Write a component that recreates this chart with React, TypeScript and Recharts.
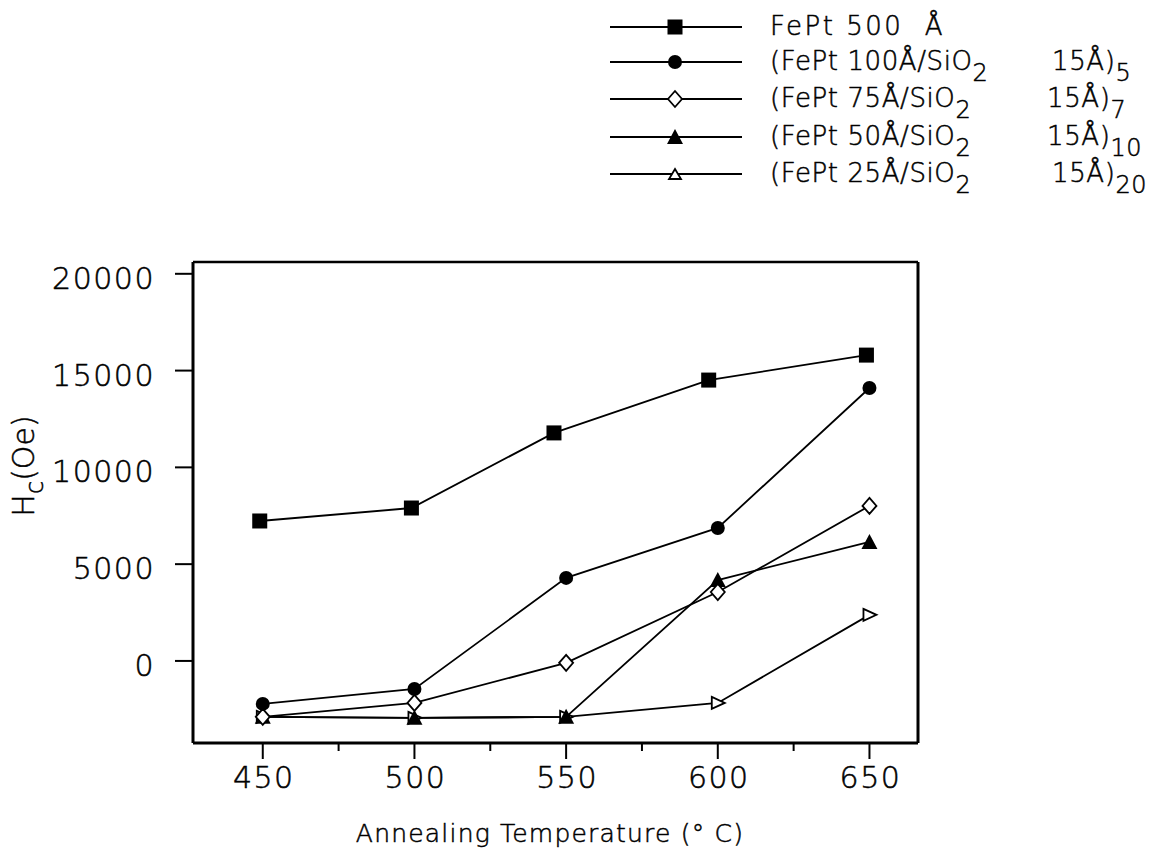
import React from 'react';
import { LineChart, Line, XAxis, YAxis, Legend, ReferenceLine } from 'recharts';

// ---- data ----
const temps = [450, 500, 550, 600, 650];
const fePt500Temps = [449, 499, 546, 597, 649];
const fePt500 = [7230, 7900, 11780, 14510, 15800];
const ml100 = [-2220, -1450, 4290, 6870, 14100];
const ml75 = [-2890, -2170, -100, 3560, 8010];
const ml50 = [-2890, -2940, -2890, 4180, 6150];
const ml25 = [-2890, -2940, -2890, -2170, 2380];

const xTicks = [450, 475, 500, 525, 550, 575, 600, 625, 650];
const yTicks = [0, 5000, 10000, 15000, 20000];
const xDomain = [427, 666];
const yDomain = [-4240, 20610];

const legendMain = [
  'FePt 500\u00A0\u00A0Å',
  '(FePt 100Å/SiO',
  '(FePt 75Å/SiO',
  '(FePt 50Å/SiO',
  '(FePt 25Å/SiO',
];
const legendSub = ['', '5', '7', '10', '20'];
const seriesKeys = ['sq', 'ci', 'di', 'tf', 'to'];

const toData = (xs: number[], ys: number[]) => xs.map((t, i) => ({ t, v: ys[i] }));

const dSq = toData(fePt500Temps, fePt500);
const dCi = toData(temps, ml100);
const dDi = toData(temps, ml75);
const dTf = toData(temps, ml50);
const dTo = toData(temps, ml25);

const FONT = '"DejaVu Sans", "Liberation Sans", sans-serif';
const WEIGHT = 300;
const TXT = { fontFamily: FONT, fontWeight: WEIGHT, fill: '#000', stroke: '#000', strokeWidth: 0.5 } as any;

const marker = (kind: string, cx: number, cy: number, key?: any, legend = false) => {
  switch (kind) {
    case 'sq':
      return <rect key={key} x={cx - 7.5} y={cy - 7.5} width={15} height={15} fill="#000" />;
    case 'ci':
      return <circle key={key} cx={cx} cy={cy} r={7} fill="#000" />;
    case 'di':
      return (
        <polygon
          key={key}
          points={`${cx},${cy - 8} ${cx + 7},${cy} ${cx},${cy + 8} ${cx - 7},${cy}`}
          fill="#fff"
          stroke="#000"
          strokeWidth={1.8}
        />
      );
    case 'tf':
      return (
        <polygon
          key={key}
          points={`${cx},${cy - 8} ${cx + 8},${cy + 7} ${cx - 8},${cy + 7}`}
          fill="#000"
        />
      );
    case 'to':
    default:
      if (legend) {
        return (
          <polygon
            key={key}
            points={`${cx},${cy - 5} ${cx + 6},${cy + 5} ${cx - 6},${cy + 5}`}
            fill="#fff"
            stroke="#000"
            strokeWidth={1.8}
          />
        );
      }
      return (
        <polygon
          key={key}
          points={`${cx - 6},${cy - 6} ${cx + 7},${cy} ${cx - 6},${cy + 6}`}
          fill="#fff"
          stroke="#000"
          strokeWidth={1.8}
        />
      );
  }
};

const dotFn = (kind: string) => (p: any) => marker(kind, p.cx, p.cy, `${kind}-${p.index}`);

const XTick = (props: any) => {
  const { x, y, payload } = props;
  const major = payload.value % 50 === 0;
  return (
    <g>
      <line x1={x} x2={x} y1={y} y2={y + (major ? 16 : 8)} stroke="#000" strokeWidth={2} />
      {major && (
        <text x={x + 1} y={y + 45} textAnchor="middle" fontSize={30} letterSpacing={1.5} {...TXT}>
          {payload.value}
        </text>
      )}
    </g>
  );
};

const YTick = (props: any) => {
  const { x, y, payload } = props;
  return (
    <g>
      <line x1={x - 18} x2={x} y1={y} y2={y} stroke="#000" strokeWidth={2} />
      <text x={x - 38} y={y + 15} textAnchor="end" fontSize={30} letterSpacing={1.5} {...TXT}>
        {payload.value}
      </text>
    </g>
  );
};

const XTitle = () => (
  <text x={550} y={842} textAnchor="middle" fontSize={25} letterSpacing={1.2} {...TXT}>
    Annealing Temperature (° C)
  </text>
);

const YTitle = () => (
  <text
    x={34}
    y={466}
    transform="rotate(-90 34 466)"
    textAnchor="middle"
    fontSize={30}
    {...TXT}
  >
    H
    <tspan dy={9} fontSize={24}>c</tspan>
    <tspan dy={-9}>(Oe)</tspan>
  </text>
);

const rowsY = [27, 62, 99, 137, 174];

const LegendContent = () => (
  <svg width={569} height={210} style={{ display: 'block' }}>
    {seriesKeys.map((k, i) => {
      const y = rowsY[i];
      return (
        <g key={k}>
          <line x1={20} x2={152} y1={y} y2={y} stroke="#000" strokeWidth={1.8} />
          {marker(k, 85, y, undefined, true)}
          <text x={180} y={y + 8} fontSize={26} letterSpacing={i === 0 ? 2.5 : 0.6} {...TXT}>
            {legendMain[i]}
            {i > 0 && (
              <tspan dy={11} fontSize={24}>
                2
              </tspan>
            )}
          </text>
          {i > 0 && (
            <text x={i === 1 || i === 4 ? 462 : 457} y={y + 8} fontSize={26} letterSpacing={0.6} {...TXT}>
              15Å)
              <tspan dy={11} fontSize={24}>
                {legendSub[i]}
              </tspan>
            </text>
          )}
        </g>
      );
    })}
  </svg>
);

export default function App() {
  return (
    <div style={{ position: 'absolute', left: 0, top: 0, width: 1159, height: 856, background: '#fff' }}>
      <LineChart
        width={1159}
        height={856}
        margin={{ top: 262, right: 241, bottom: 13, left: 73 }}
      >
        <XAxis
          xAxisId={0}
          dataKey="t"
          type="number"
          domain={xDomain}
          allowDataOverflow
          ticks={xTicks}
          interval={0}
          tick={<XTick />}
          tickLine={false}
          tickSize={0}
          tickMargin={0}
          height={100}
          axisLine={{ stroke: '#000', strokeWidth: 3 }}
          label={<XTitle />}
        />
        <YAxis
          yAxisId={0}
          type="number"
          domain={yDomain}
          allowDataOverflow
          ticks={yTicks}
          interval={0}
          tick={<YTick />}
          tickLine={false}
          tickSize={0}
          tickMargin={0}
          width={120}
          axisLine={{ stroke: '#000', strokeWidth: 3 }}
          label={<YTitle />}
        />
        <ReferenceLine y={yDomain[1]} stroke="#000" strokeWidth={2.5} ifOverflow="visible" />
        <ReferenceLine x={xDomain[1]} stroke="#000" strokeWidth={3} ifOverflow="visible" />
        <Legend
          layout="vertical"
          align="center"
          verticalAlign="middle"
          content={<LegendContent />}
          wrapperStyle={{ position: 'absolute', left: 590, top: 0, width: 569, height: 210 }}
        />
        <Line
          data={dTo}
          dataKey="v"
          name="(FePt 25Å/SiO2 15Å)20"
          stroke="#000"
          strokeWidth={1.8}
          dot={dotFn('to')}
          activeDot={false}
          isAnimationActive={false}
        />
        <Line
          data={dTf}
          dataKey="v"
          name="(FePt 50Å/SiO2 15Å)10"
          stroke="#000"
          strokeWidth={1.8}
          dot={dotFn('tf')}
          activeDot={false}
          isAnimationActive={false}
        />
        <Line
          data={dDi}
          dataKey="v"
          name="(FePt 75Å/SiO2 15Å)7"
          stroke="#000"
          strokeWidth={1.8}
          dot={dotFn('di')}
          activeDot={false}
          isAnimationActive={false}
        />
        <Line
          data={dCi}
          dataKey="v"
          name="(FePt 100Å/SiO2 15Å)5"
          stroke="#000"
          strokeWidth={1.8}
          dot={dotFn('ci')}
          activeDot={false}
          isAnimationActive={false}
        />
        <Line
          data={dSq}
          dataKey="v"
          name="FePt 500 Å"
          stroke="#000"
          strokeWidth={1.8}
          dot={dotFn('sq')}
          activeDot={false}
          isAnimationActive={false}
        />
      </LineChart>
    </div>
  );
}
